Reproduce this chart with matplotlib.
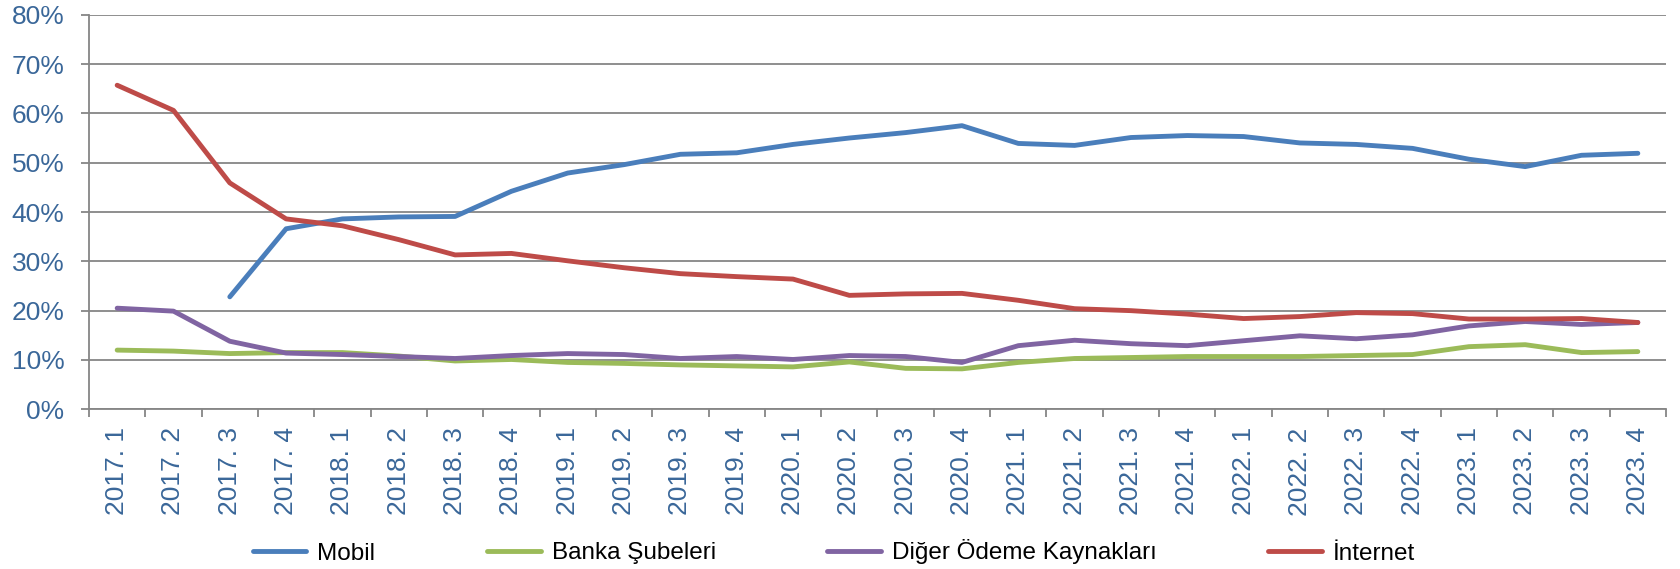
import numpy as np
import matplotlib
matplotlib.use("Agg")
import matplotlib.pyplot as plt
from matplotlib.ticker import FixedLocator, FuncFormatter

plt.rcParams['font.family'] = ['Liberation Sans', 'DejaVu Sans']

categories = [f"{y}. {q}" for y in range(2017, 2024) for q in range(1, 5)]

mobil = [np.nan, np.nan, 22.8, 36.6, 38.6, 39.0, 39.1, 44.2, 47.9, 49.6, 51.7, 52.0,
         53.7, 55.0, 56.1, 57.5, 53.9, 53.5, 55.1, 55.5, 55.3, 54.0, 53.7, 52.9,
         50.7, 49.2, 51.5, 51.9]
banka = [12.0, 11.8, 11.3, 11.5, 11.5, 10.8, 9.8, 10.1, 9.5, 9.3, 9.0, 8.8,
         8.6, 9.6, 8.3, 8.2, 9.5, 10.3, 10.5, 10.7, 10.7, 10.7, 10.9, 11.1,
         12.7, 13.1, 11.5, 11.7]
diger = [20.5, 19.9, 13.8, 11.4, 11.1, 10.7, 10.3, 10.9, 11.3, 11.1, 10.3, 10.7,
         10.1, 10.9, 10.7, 9.5, 12.9, 14.0, 13.3, 12.9, 13.9, 14.9, 14.3, 15.1,
         16.9, 17.8, 17.2, 17.6]
internet = [65.7, 60.6, 45.9, 38.6, 37.2, 34.4, 31.3, 31.6, 30.1, 28.7, 27.5, 26.9,
            26.4, 23.1, 23.4, 23.5, 22.1, 20.4, 20.0, 19.3, 18.4, 18.8, 19.6, 19.4,
            18.3, 18.3, 18.4, 17.6]

series_names = ["Mobil", "Banka Şubeleri", "Diğer Ödeme Kaynakları", "İnternet"]
series_values = [mobil, banka, diger, internet]
colors = ["#4A7EBB", "#9BBB59", "#8064A2", "#BE4B48"]

W, H = 1681, 569
fig = plt.figure(figsize=(W / 100, H / 100), dpi=100)
ax = fig.add_axes([89 / W, 1 - 409.3 / H, (1666 - 89) / W, (409.3 - 14.7) / H])

x = np.arange(len(categories))
handles = []
for name, vals, c in zip(series_names, series_values, colors):
    h, = ax.plot(x, vals, color=c, lw=3.5, solid_capstyle='round',
                 solid_joinstyle='round', label=name, zorder=3)
    handles.append(h)

ax.set_xlim(-0.5, len(categories) - 0.5)
ax.set_ylim(0, 80)

grid_color = "#868686"
ax.yaxis.set_major_locator(FixedLocator(np.arange(0, 81, 10)))
ax.yaxis.set_major_formatter(FuncFormatter(lambda v, p: f"{int(v)}%"))
ax.grid(axis='y', color=grid_color, lw=1.3, zorder=1)
ax.set_axisbelow(True)

ax.set_xticks(x)
ax.set_xticklabels(categories, rotation=90)
ax.xaxis.set_minor_locator(FixedLocator(np.arange(-0.5, len(categories), 1.0)))
ax.tick_params(axis='x', which='major', length=0, pad=13, labelsize=19, labelcolor="#3A6799")
ax.tick_params(axis='x', which='minor', length=5.5, width=1.3, color=grid_color, direction='out')
ax.tick_params(axis='y', which='major', length=5.8, width=1.3, color=grid_color, direction='out',
               pad=12, labelsize=19, labelcolor="#3A6799")

for s in ['top', 'right']:
    ax.spines[s].set_visible(False)
for s in ['left', 'bottom']:
    ax.spines[s].set_color(grid_color)
    ax.spines[s].set_linewidth(1.3)

fig.legend(handles, series_names, loc='center', bbox_to_anchor=(834 / W, 1 - 552 / H),
           ncol=4, frameon=False, fontsize=17.5, handlelength=2.2, handletextpad=0.45,
           columnspacing=4.6, borderaxespad=0, borderpad=0)

fig.savefig("out.png", dpi=100)
